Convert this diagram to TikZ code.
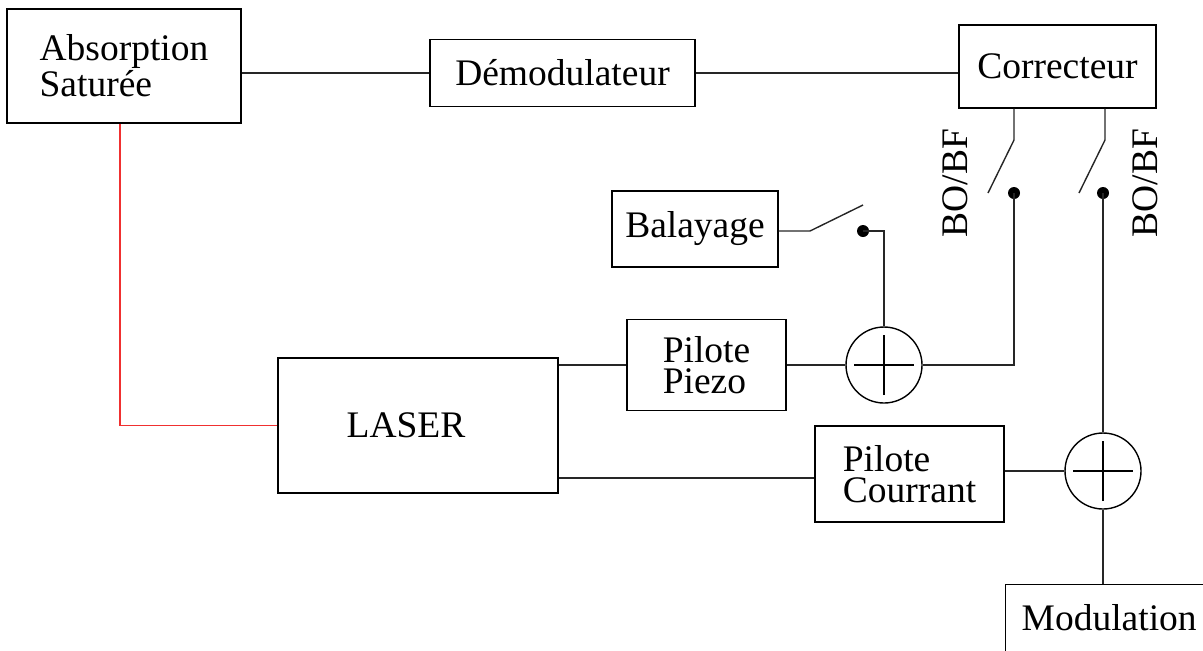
\documentclass[tikz,border=0pt]{standalone}
\usepackage{fontspec}
\setmainfont{Liberation Serif}
\usetikzlibrary{positioning, calc}
\definecolor{cred}{HTML}{F03030}
\tikzset{
  every picture/.style={line width=0.7pt},
  box/.style={draw, fill=white, inner sep=0pt, align=left, font=\fontsize{18.75}{15.5}\selectfont},
  adder/.style={draw, circle, minimum size=38pt, inner sep=0pt,
    path picture={
      \draw ([xshift=-15pt]path picture bounding box.center) -- ([xshift=15pt]path picture bounding box.center);
      \draw ([yshift=-15pt]path picture bounding box.center) -- ([yshift=15pt]path picture bounding box.center);
    }},
  wire/.style={draw=black!85},
  feed/.style={draw=cred},
  contact/.style={fill, circle, inner sep=0pt, minimum size=6pt},
  tag/.style={font=\fontsize{18.75}{15.5}\selectfont, rotate=90},
}
\begin{document}
\begin{tikzpicture}[x=0.5pt, y=-0.5pt]
  \useasboundingbox (0,0) rectangle (1203,650);
  \clip (0,0) rectangle (1203,650);
  % blocks
  \node[box, minimum width=117pt, minimum height=57pt] (abs) at (124,66) {Absorption\\Saturée};
  \node[box, minimum width=132.5pt, minimum height=33.5pt] (demod) at (562.5,73) {Démodulateur};
  \node[box, minimum width=98.5pt, minimum height=41.5pt] (corr) at (1057.5,66.5) {Correcteur};
  \node[box, minimum width=83pt, minimum height=38pt] (bal) at (695,229) {Balayage};
  \node[box, minimum width=79.5pt, minimum height=45.5pt] (piezo) at (706.5,365) {Pilote\\Piezo};
  \node[box, minimum width=140pt, minimum height=67.5pt,
        label={[xshift=-6pt, font=\fontsize{18.75}{15.5}\selectfont]center:LASER}] (laser) at (418,425.5) {};
  \node[box, minimum width=94.5pt, minimum height=48pt] (cour) at (909.5,474) {Pilote\\Courrant};
  \node[box, anchor=north west, text width=89pt, inner xsep=8pt, text height=23pt, text depth=25pt] (mod) at (1005,584) {Modulation};
  % summing points
  \node[adder] (add1) at (884,365) {};
  \node[adder] (add2) at (1103,471) {};
  % switch points
  \coordinate (s1a) at (810,231);
  \coordinate (s1b) at (863,205);
  \node[contact] (s1c) at (863,231) {};
  \coordinate (s2a) at (1014,140);
  \coordinate (s2b) at (988,193);
  \node[contact] (s2c) at (1014,193) {};
  \coordinate (s3a) at (1105,140);
  \coordinate (s3b) at (1079,193);
  \node[contact] (s3c) at (1103,193) {};
  \node[tag] (bo1) at (955,183) {BO/BF};
  \node[tag] (bo2) at (1145,183) {BO/BF};
  % connections
  \draw[wire] (abs.east |- demod.west) -- (demod.west);
  \draw[wire] (demod.east) -- (demod.east -| corr.west);
  \draw[feed] ([xshift=-2pt]abs.south) |- (laser.west);
  \draw[wire] (piezo.west -| laser.east) -- (piezo.west);
  \draw[wire] (piezo.east) -- (add1.west);
  \draw[wire] ([yshift=-2pt]cour.west -| laser.east) -- ([yshift=-2pt]cour.west);
  \draw[wire] (add2.west -| cour.east) -- (add2.west);
  \draw[wire] (bal.east |- s1a) -- (s1a) -- (s1b);
  \draw[wire] (s1c.center) -| (add1.north);
  \draw[wire] (s2a |- corr.south) -- (s2a) -- (s2b);
  \draw[wire] (s2c.center) |- (add1.east);
  \draw[wire] (s3a |- corr.south) -- (s3a) -- (s3b);
  \draw[wire] (s3c.center) -- (add2.north);
  \draw[wire] (add2.south) -- (add2.south |- mod.north);
\end{tikzpicture}
\end{document}
